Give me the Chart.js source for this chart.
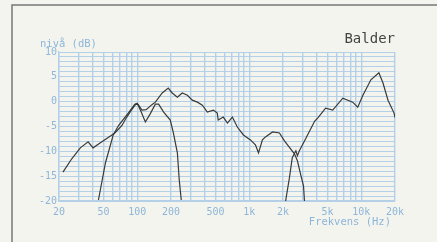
<!DOCTYPE html>
<html>
<head>
<meta charset="utf-8">
<script src="https://cdn.jsdelivr.net/npm/chart.js@4"></script>
<style>
  html, body { margin: 0; padding: 0; background: #f4f4ef; }
  #wrap { width: 437px; height: 242px; }
</style>
</head>
<body>
<div id="wrap"><canvas id="respons"></canvas></div>
<script>
// kurver (Hz / dB)
const frekHoved = [21.7, 26, 31, 36.4, 40.3, 46.5, 55, 63, 73, 80, 88, 97, 102, 110, 120, 135, 145, 167, 189, 205, 228, 252, 280, 310, 344, 381, 422, 478, 518, 528, 586, 638, 706, 782, 886, 1024, 1134, 1209, 1310, 1395, 1614, 1860, 2060, 2530, 2690, 2870, 3050, 3110]
const dbHoved   = [-14.2, -11.5, -9.3, -8.1, -9.3, -8.3, -7.2, -6.3, -4.8, -3.2, -1.8, -0.5, -0.6, -1.7, -1.6, -0.6, -0.1, 1.75, 2.75, 1.75, 0.9, 1.75, 1.3, 0.3, -0.1, -0.7, -2.1, -1.7, -2.3, -3.7, -3.1, -4.3, -3.1, -5.1, -6.7, -7.7, -8.7, -10.3, -7.7, -7.1, -6.1, -6.3, -7.9, -10.5, -11.9, -14.6, -17, -20]

const frekBass = [45, 52, 61, 68, 83, 95, 100, 108, 118, 130, 145, 155, 172, 197, 210, 228, 237, 247]
const dbBass   = [-19.8, -12.3, -6.7, -4.8, -2.3, -0.5, -0.3, -2, -4.1, -2.5, -0.5, -0.5, -2.1, -3.7, -6.3, -10.3, -15.8, -19.8]

const frekDiskant = [2110, 2280, 2420, 2606, 2690, 2800, 3110, 3840, 4080, 4800, 5560, 6840, 8380, 9300, 10340, 12180, 14360, 15600, 17320, 19620, 20000]
const dbDiskant   = [-20, -15.4, -11.3, -9.9, -10.9, -9.9, -7.9, -3.9, -3.3, -1.3, -1.7, 0.7, -0.1, -1.1, 1.3, 4.4, 5.8, 3.8, 0.3, -2.3, -3.2]

const gridFrek = [20, 30, 40, 50, 60, 70, 80, 90, 100, 200, 300, 400, 500, 600, 700, 800, 900,
  1000, 2000, 3000, 4000, 5000, 6000, 7000, 8000, 9000, 10000, 20000]
const frekEtiketter = { 20: '20', 50: '50', 100: '100', 200: '200', 500: '500', 1000: '1k', 2000: '2k', 5000: '5k', 10000: '10k', 20000: '20k' }

const blaa = '#8db6d8'
const gridBlaa = '#b4d0e8'
const kurveFarge = '#3a3a3a'
const skrift = "'DejaVu Sans Mono', monospace"

function punkter(frek, db) {
  return frek.map((f, i) => ({ x: f, y: db[i] }))
}

const ramme = {
  id: 'ramme',
  beforeDraw(chart) {
    const c = chart.ctx
    c.save()
    c.fillStyle = '#f4f4ef'
    c.fillRect(0, 0, chart.width, chart.height)
    c.strokeStyle = '#777'
    c.lineWidth = 1.5
    c.beginPath()
    c.moveTo(12, 242)
    c.lineTo(12, 5)
    c.lineTo(437, 5)
    c.stroke()
    c.restore()
  },
  afterDraw(chart) {
    const c = chart.ctx
    c.save()
    c.textBaseline = 'middle'
    c.fillStyle = blaa
    c.font = '10.5px ' + skrift
    c.textAlign = 'left'
    c.fillText('nivå (dB)', 40, 44)
    c.textAlign = 'right'
    c.fillText('Frekvens (Hz)', 391, 222)
    c.fillStyle = '#444'
    c.font = '14px ' + skrift
    c.fillText('Balder', 395, 39)
    c.restore()
  }
}

const ctx = document.getElementById('respons')

new Chart(ctx, {
  type: 'line',
  data: {
    datasets: [
      { data: punkter(frekHoved, dbHoved) },
      { data: punkter(frekBass, dbBass) },
      { data: punkter(frekDiskant, dbDiskant) }
    ]
  },
  options: {
    responsive: true,
    maintainAspectRatio: false,
    animation: false,
    layout: { padding: { top: 52, right: 42, left: 0, bottom: 0 } },
    elements: {
      point: { radius: 0 },
      line: { borderColor: kurveFarge, borderWidth: 1.2, tension: 0 }
    },
    plugins: {
      legend: { display: false },
      tooltip: { enabled: false }
    },
    scales: {
      x: {
        type: 'logarithmic',
        min: 20,
        max: 20000,
        afterBuildTicks: (s) => { s.ticks = gridFrek.map(v => ({ value: v })) },
        afterFit: (s) => { s.height = 41 },
        ticks: {
          autoSkip: false,
          maxRotation: 0,
          padding: 5,
          color: blaa,
          font: { family: skrift, size: 10 },
          callback: (v) => frekEtiketter[v] || ''
        },
        grid: { color: gridBlaa, lineWidth: 1.4, drawTicks: false },
        border: { color: gridBlaa, width: 1.4 }
      },
      y: {
        min: -20,
        max: 10,
        afterFit: (s) => { s.width = 59 },
        ticks: {
          stepSize: 1,
          autoSkip: false,
          padding: 2,
          color: blaa,
          font: { family: skrift, size: 10 },
          callback: (v) => (v % 5 === 0 ? String(v) : '')
        },
        grid: { color: gridBlaa, lineWidth: 1, drawTicks: false },
        border: { color: gridBlaa, width: 1.4 }
      }
    }
  },
  plugins: [ramme]
});
</script>
</body>
</html>
